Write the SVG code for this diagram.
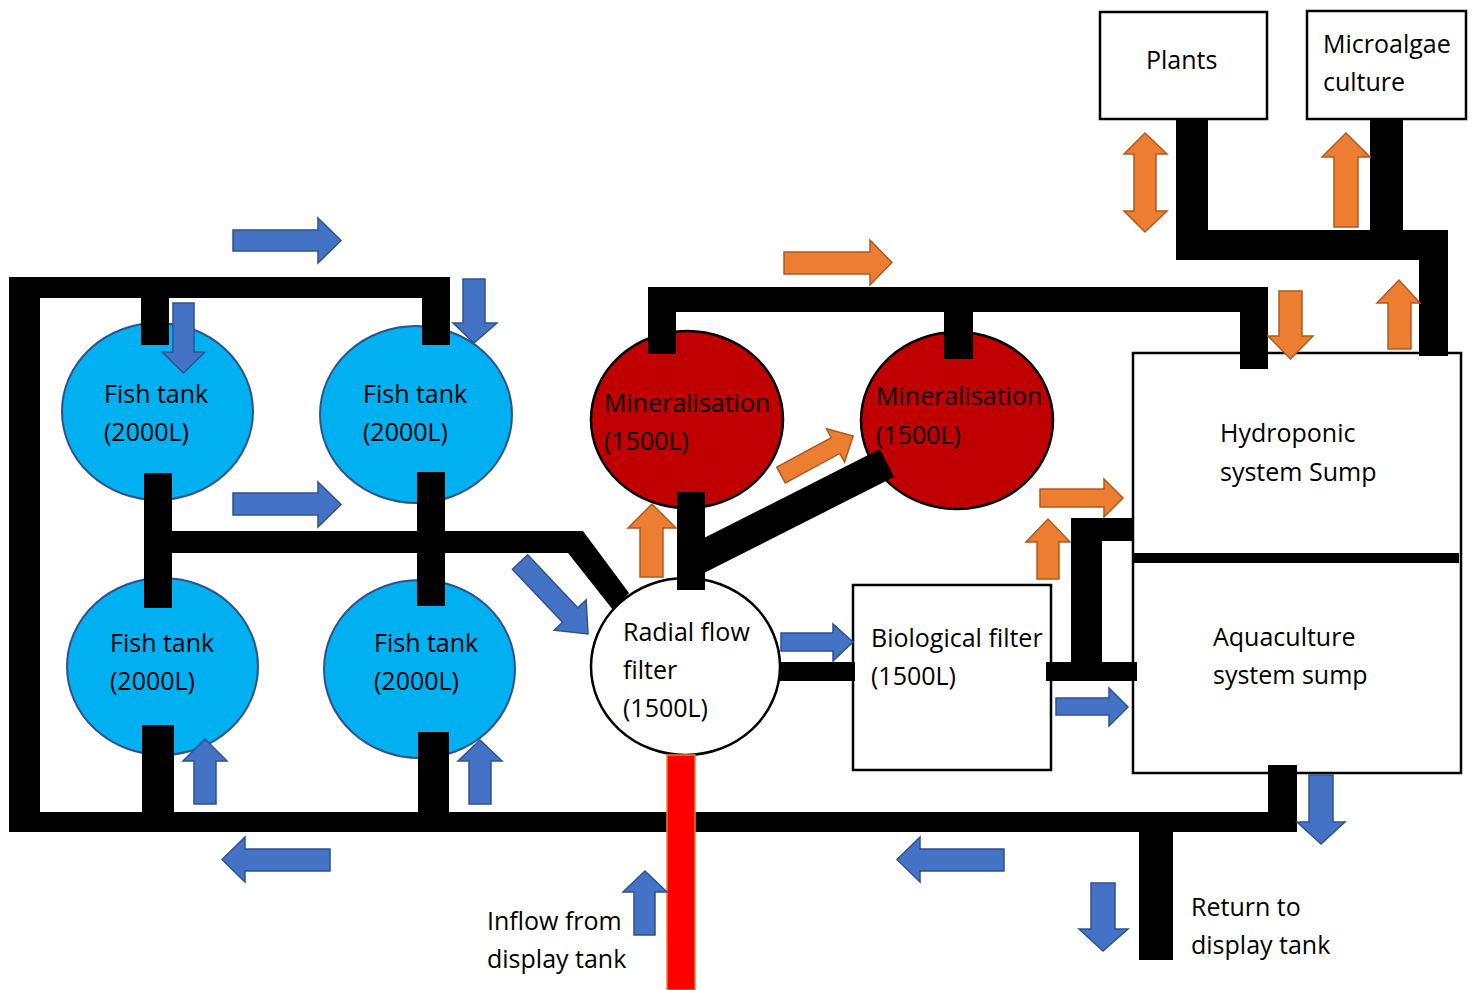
<svg xmlns="http://www.w3.org/2000/svg" width="1475" height="990" viewBox="0 0 1475 990">
<style>
text{font-family:"Open Sans","Noto Sans","Liberation Sans",sans-serif;font-size:25px;fill:#000}
.fish{fill:#00B0F0;stroke:#2F528F;stroke-width:2}
.mineral{fill:#C00000;stroke:#000;stroke-width:2.5}
.box{fill:#fff;stroke:#000;stroke-width:2.5}
.pipe{fill:#000}
.ba{fill:#4472C4;stroke:#2F528F;stroke-width:1.5}
.oa{fill:#ED7D31;stroke:#AE5A21;stroke-width:1.5}
</style>
<rect width="1475" height="990" fill="#fff"/>

<g id="fish-tank-1"><ellipse class="fish" cx="157.5" cy="411.5" rx="95.5" ry="88.5"/><text x="104" y="403">Fish tank</text><text x="104" y="441">(2000L)</text></g>
<g id="fish-tank-2"><ellipse class="fish" cx="416" cy="414.5" rx="96" ry="88.5"/><text x="363" y="403">Fish tank</text><text x="363" y="441">(2000L)</text></g>
<g id="fish-tank-3"><ellipse class="fish" cx="162.5" cy="666.5" rx="95.5" ry="88.5"/><text x="110" y="652">Fish tank</text><text x="110" y="690">(2000L)</text></g>
<g id="fish-tank-4"><ellipse class="fish" cx="419.5" cy="669" rx="95.5" ry="89"/><text x="374" y="652">Fish tank</text><text x="374" y="690">(2000L)</text></g>
<g id="mineralisation-1"><ellipse class="mineral" cx="687" cy="419.5" rx="96" ry="88.5"/><text x="604" y="412">Mineralisation</text><text x="604" y="450">(1500L)</text></g>
<g id="mineralisation-2"><ellipse class="mineral" cx="957" cy="420.5" rx="96" ry="88.5"/><text x="876" y="405">Mineralisation</text><text x="876" y="444">(1500L)</text></g>
<g id="radial-flow-filter"><ellipse class="box" cx="685.5" cy="666.5" rx="94.5" ry="88.5"/><text x="623" y="641">Radial flow</text><text x="623" y="679">filter</text><text x="623" y="717">(1500L)</text></g>
<g id="biological-filter"><rect class="box" x="853" y="585" width="198" height="185"/><text x="871" y="647">Biological filter</text><text x="871" y="685">(1500L)</text></g>
<g id="sump"><rect class="box" x="1133" y="353" width="328" height="420"/><text x="1220" y="442">Hydroponic</text><text x="1220" y="481">system Sump</text><text x="1213" y="646">Aquaculture</text><text x="1213" y="684">system sump</text></g>
<g id="plants"><rect class="box" x="1100" y="12" width="167" height="107"/><text x="1146" y="69">Plants</text></g>
<g id="microalgae"><rect class="box" x="1307" y="11" width="159" height="108"/><text x="1323" y="53">Microalgae</text><text x="1323" y="91">culture</text></g>
<g id="inflow-label"><text x="487" y="930">Inflow from</text><text x="487" y="968">display tank</text></g>
<g id="return-label"><text x="1191" y="916">Return to</text><text x="1191" y="954">display tank</text></g>

<g id="connectors">
<rect class="pipe" x="9" y="277" width="31" height="555"/>
<rect class="pipe" x="9" y="277" width="441" height="21"/>
<rect class="pipe" x="141" y="277" width="28" height="68"/>
<rect class="pipe" x="422" y="277" width="28" height="68"/>
<rect class="pipe" x="144" y="473" width="28" height="135"/>
<rect class="pipe" x="417" y="472" width="28" height="134"/>
<polygon class="pipe" points="144,531 583,531 629,593 613,610 568,553 144,553"/>
<rect class="pipe" x="142" y="725" width="32" height="107"/>
<rect class="pipe" x="418" y="732" width="31" height="100"/>
<rect class="pipe" x="9" y="812" width="1288" height="20"/>
<rect class="pipe" x="1268" y="765" width="29" height="67"/>
<rect class="pipe" x="1139" y="812" width="34" height="148"/>
<rect class="pipe" x="677" y="492" width="28" height="98"/>
<polygon class="pipe" points="700,540 880,449 894,477 700,575"/>
<rect class="pipe" x="780" y="662" width="75" height="19"/>
<rect class="pipe" x="648" y="287" width="620" height="25"/>
<rect class="pipe" x="648" y="287" width="28" height="67"/>
<rect class="pipe" x="944" y="300" width="29" height="59"/>
<rect class="pipe" x="1240" y="287" width="28" height="82"/>
<rect class="pipe" x="1046" y="662" width="91" height="19"/>
<rect class="pipe" x="1071" y="518" width="31" height="155"/>
<rect class="pipe" x="1071" y="518" width="62" height="23"/>
<rect class="pipe" x="1133" y="553" width="326" height="10"/>
<rect class="pipe" x="1176" y="119" width="32" height="141"/>
<rect class="pipe" x="1176" y="230" width="272" height="30"/>
<rect class="pipe" x="1370" y="119" width="33" height="120"/>
<rect class="pipe" x="1419" y="230" width="29" height="126"/>
<rect x="667" y="755" width="28" height="235" fill="#FF0000" stroke="#ED7D31" stroke-width="1.5"/>
</g>

<g id="flow-arrows">
<polygon class="ba" points="233,230 318,230 318,218 341,240.5 318,263 318,251 233,251"/>
<polygon class="ba" points="233,493 318,493 318,482 341,504.5 318,527 318,515 233,515"/>
<polygon class="ba" points="781,633 833,633 833,624 853,642 833,661 833,651 781,651"/>
<polygon class="ba" points="1056,698 1109,698 1109,688 1128,707 1109,726 1109,715 1056,715"/>
<polygon class="ba" points="222,859.5 245,837 245,849 330,849 330,871 245,871 245,882"/>
<polygon class="ba" points="897,859.5 920,837 920,849 1004,849 1004,871 920,871 920,882"/>
<polygon class="ba" points="173,303 194,303 194,352 205,352 183.5,373 162,352 173,352"/>
<polygon class="ba" points="463,279 485,279 485,323 497,323 474,343 453,323 463,323"/>
<polygon class="ba" points="1309,775 1333,775 1333,822 1345,822 1321,844 1297,822 1309,822"/>
<polygon class="ba" points="1091,883 1115,883 1115,929 1128,929 1103,951 1079,929 1091,929"/>
<polygon class="ba" points="194,804 216,804 216,761 227,761 205,739 183,761 194,761"/>
<polygon class="ba" points="469,804 491,804 491,761 502,761 480,740 458,761 469,761"/>
<polygon class="ba" points="634,935 655,935 655,892 667,892 645,871 623,892 634,892"/>
<polygon class="ba" transform="translate(520,562) rotate(46.6)" points="0,-10.5 73,-10.5 73,-22 99,0 73,22 73,10.5 0,10.5"/>
<polygon class="oa" points="784,252 870,252 870,240 892,262.5 870,285 870,274 784,274"/>
<polygon class="oa" points="1040,489 1104,489 1104,479 1123,498 1104,517 1104,507 1040,507"/>
<polygon class="oa" points="1279,291 1302,291 1302,336 1313,336 1290.5,359 1268,336 1279,336"/>
<polygon class="oa" points="640,577 663,577 663,528 676,528 652,504 628,528 640,528"/>
<polygon class="oa" points="1037,579 1059,579 1059,542 1070,542 1048,519 1026,542 1037,542"/>
<polygon class="oa" points="1334,227 1358,227 1358,157 1370,157 1346,133 1322,157 1334,157"/>
<polygon class="oa" points="1388,349 1411,349 1411,303 1420,303 1399,280 1377,303 1388,303"/>
<polygon class="oa" points="1145,133 1167,154 1156,154 1156,211 1167,211 1145,232 1124,211 1134,211 1134,154 1124,154"/>
<polygon class="oa" transform="translate(781,475) rotate(-28.4)" points="0,-9 62,-9 62,-19 82,0 62,19 62,9 0,9"/>
</g>
</svg>
